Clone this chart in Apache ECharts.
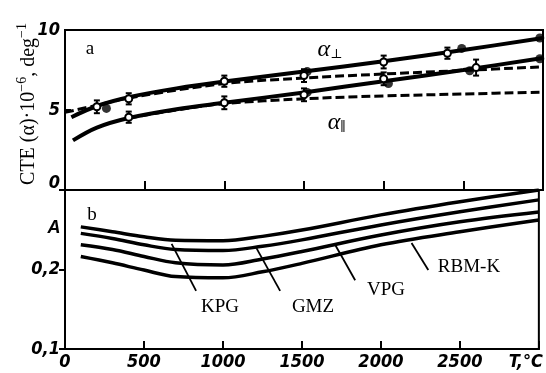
<!DOCTYPE html>
<html><head><meta charset="utf-8">
<script src="https://cdn.jsdelivr.net/npm/echarts@6/dist/echarts.min.js"></script>
<style>html,body{margin:0;padding:0;background:#fff}#c{width:546px;height:373px}</style>
</head><body><div id="c"></div>
<script>
// ---------- data ----------
const xTicks = [0, 500, 1000, 1500, 2000, 2500, 3000];
// panel a: CTE, 10^-6 deg^-1
const perpSolid = [[40,4.55],[200,5.25],[400,5.8],[700,6.35],[1000,6.78],[1500,7.4],[2000,8.05],[2500,8.75],[3000,9.5]];
const perpDashed = [[0,4.85],[200,5.3],[400,5.75],[1000,6.65],[1500,7.0],[2000,7.25],[2500,7.47],[3000,7.7]];
const parSolid = [[50,3.1],[200,3.9],[400,4.5],[700,5.05],[1000,5.45],[1500,6.1],[2000,6.8],[2500,7.5],[3000,8.25]];
const parDashed = [[400,4.5],[700,5.0],[1000,5.4],[1500,5.7],[2000,5.88],[2500,6.0],[3000,6.12]];
const perpOpen = [[200,5.2,0.4],[400,5.7,0.35],[1000,6.8,0.35],[1500,7.15,0.4],[2000,8.0,0.4],[2400,8.55,0.35]];
const perpFilled = [[260,5.1],[1520,7.4],[2490,8.85],[2980,9.5]];
const parOpen = [[400,4.55,0.35],[1000,5.45,0.4],[1500,5.95,0.4],[2000,6.95,0.4],[2580,7.65,0.5]];
const parFilled = [[1520,6.1],[2030,6.65],[2540,7.45],[2980,8.2]];
// panel b: A (log scale, ticks 0,1 / 0,2)
const aTicks = [0.1, 0.2, 0.4];
const kpg  = [[100,0.290],[300,0.278],[500,0.266],[700,0.258],[1000,0.257],[1250,0.267],[1500,0.282],[2000,0.322],[2500,0.361],[3000,0.400]];
const gmz  = [[100,0.274],[300,0.262],[500,0.248],[700,0.238],[1000,0.236],[1250,0.245],[1500,0.259],[2000,0.295],[2500,0.331],[3000,0.367]];
const vpg  = [[100,0.248],[300,0.238],[500,0.224],[700,0.212],[1000,0.208],[1250,0.219],[1500,0.234],[2000,0.270],[2500,0.303],[3000,0.330]];
const rbmk = [[100,0.224],[300,0.212],[500,0.199],[700,0.188],[1000,0.186],[1250,0.196],[1500,0.211],[2000,0.248],[2500,0.278],[3000,0.308]];
const leaderKPG  = [[675,0.250],[830,0.166]];
const leaderGMZ  = [[1212,0.241],[1362,0.166]];
const leaderVPG  = [[1712,0.247],[1837,0.182]];
const leaderRBMK = [[2194,0.252],[2300,0.199]];

// log transform for panel b (value axis in octaves above 0.1)
const A0 = aTicks[0];
const toLog = arr => arr.map(p => [p[0], Math.log2(p[1] / A0)]);

// ---------- chart ----------
const chart = echarts.init(document.getElementById('c'), null, {renderer:'canvas'});
const tickFont = {fontFamily:'"Liberation Sans Narrow","DejaVu Sans Condensed","Liberation Sans",sans-serif', fontStyle:'italic', fontWeight:'bold', fontSize:18, color:'#000'};
const serif = '"Liberation Serif","DejaVu Serif",serif';
const axLine = {show:true, lineStyle:{color:'#000', width:2}};

function lineS(data, xi, yi, width, dashed, z) {
  return {type:'line', xAxisIndex:xi, yAxisIndex:yi, data:data, smooth:0.35, symbol:'none', z:z||2,
    lineStyle:{color:'#000', width:width, type: dashed ? [9,4] : 'solid'}, silent:true, animation:false};
}
function errS(data) {
  return {type:'custom', xAxisIndex:0, yAxisIndex:0, data:data, z:5, animation:false,
    renderItem:function(params, api){
      const t = api.value(0), v = api.value(1), e = api.value(2);
      const p = api.coord([t, v]), pt = api.coord([t, v+e]), pb = api.coord([t, v-e]);
      const st = {stroke:'#000', lineWidth:2};
      return {type:'group', children:[
        {type:'line', shape:{x1:p[0],y1:pt[1],x2:p[0],y2:pb[1]}, style:st},
        {type:'line', shape:{x1:p[0]-3,y1:pt[1],x2:p[0]+3,y2:pt[1]}, style:st},
        {type:'line', shape:{x1:p[0]-3,y1:pb[1],x2:p[0]+3,y2:pb[1]}, style:st},
        {type:'circle', shape:{cx:p[0], cy:p[1], r:3.5}, style:{fill:'#fff', stroke:'#000', lineWidth:2}}
      ]};
    }};
}
function dotS(data) {
  return {type:'scatter', xAxisIndex:0, yAxisIndex:0, data:data, symbolSize:9, z:4, animation:false,
    itemStyle:{color:'#000'}};
}

chart.setOption({
  backgroundColor:'#fff',
  animation:false,
  grid:[
    {left:65, width:478, top:30, height:160, show:true, borderColor:'#000', borderWidth:2, backgroundColor:'transparent'},
    {left:65, width:478, top:190, height:159, show:true, borderColor:'#000', borderWidth:2, backgroundColor:'transparent'}
  ],
  xAxis:[
    {gridIndex:0, type:'value', min:xTicks[0], max:xTicks[xTicks.length-1], interval:500, axisLine:axLine,
      axisTick:{show:true, inside:true, length:9, lineStyle:{width:2,color:'#000'}}, axisLabel:{show:false}, splitLine:{show:false}},
    {gridIndex:1, type:'value', min:xTicks[0], max:xTicks[xTicks.length-1], interval:500, axisLine:axLine,
      axisTick:{show:true, inside:true, length:8, lineStyle:{width:2,color:'#000'}},
      axisLabel:Object.assign({margin:4, formatter:function(v){ return v===3000 ? '{u|T,°C}' : String(v); },
        rich:{u:Object.assign({padding:[0,26,0,0]}, tickFont)}}, tickFont), splitLine:{show:false}}
  ],
  yAxis:[
    {gridIndex:0, type:'value', min:0, max:10, interval:5, axisLine:axLine,
      axisTick:{show:true, inside:true, length:6, lineStyle:{width:2,color:'#000'}},
      axisLabel:Object.assign({margin:5, formatter:function(v){ return v===0 ? '{z|0}' : String(v); },
        rich:{z:Object.assign({padding:[0,0,14,0]}, tickFont)}}, tickFont), splitLine:{show:false}},
    {gridIndex:1, type:'value', min:0, max:2, interval:1, axisLine:axLine,
      axisTick:{show:true, inside:false, length:6, lineStyle:{width:2,color:'#000'}},
      axisLabel:Object.assign({margin:5, formatter:function(v){
        if (v===0) return '0,1';
        if (v===1) return '0,2';
        return ''; }}, tickFont), splitLine:{show:false}}
  ],
  series:[
    lineS(perpDashed,0,0,3,true,2),
    lineS(parDashed,0,0,3,true,2),
    lineS(perpSolid,0,0,4,false,3),
    lineS(parSolid,0,0,4,false,3),
    dotS(perpFilled), dotS(parFilled),
    errS(perpOpen), errS(parOpen),
    lineS(toLog(kpg),1,1,3.5,false),
    lineS(toLog(gmz),1,1,3.5,false),
    lineS(toLog(vpg),1,1,3.5,false),
    lineS(toLog(rbmk),1,1,3.5,false),
    Object.assign(lineS(toLog(leaderKPG),1,1,1.8,false), {smooth:false}),
    Object.assign(lineS(toLog(leaderGMZ),1,1,1.8,false), {smooth:false}),
    Object.assign(lineS(toLog(leaderVPG),1,1,1.8,false), {smooth:false}),
    Object.assign(lineS(toLog(leaderRBMK),1,1,1.8,false), {smooth:false})
  ],
  graphic:[
    {type:'text', x:27, y:104, rotation:Math.PI/2, style:{
      text:'{n|CTE (α)·10}{s|−6}{n|, deg}{s|−1}', align:'center', verticalAlign:'middle',
      rich:{n:{fontFamily:serif, fontSize:20, fill:'#000', verticalAlign:'bottom'},
            s:{fontFamily:serif, fontSize:14, fill:'#000', verticalAlign:'top', padding:[0,0,9,0]}}}},
    {type:'text', x:90, y:49, style:{text:'a', font:'19px '+serif, fill:'#000', align:'center', verticalAlign:'middle'}},
    {type:'text', x:92, y:215, style:{text:'b', font:'19px '+serif, fill:'#000', align:'center', verticalAlign:'middle'}},
    {type:'text', x:54, y:228, style:{text:'A', font:'italic bold 18px "Liberation Sans Narrow","Liberation Sans",sans-serif', fill:'#000', align:'center', verticalAlign:'middle'}},
    {type:'text', x:330, y:50, style:{text:'{a|α}{b|⊥}', align:'center', verticalAlign:'middle',
      rich:{a:{font:'italic 24px '+serif, fill:'#000'}, b:{font:'13px '+serif, fill:'#000', padding:[10,0,0,0]}}}},
    {type:'text', x:337, y:123, style:{text:'{a|α}{b|∥}', align:'center', verticalAlign:'middle',
      rich:{a:{font:'italic 24px '+serif, fill:'#000'}, b:{font:'italic 13px '+serif, fill:'#000', padding:[10,0,0,0]}}}},
    {type:'text', x:220, y:307, style:{text:'KPG', font:'19px '+serif, fill:'#000', align:'center', verticalAlign:'middle'}},
    {type:'text', x:313, y:307, style:{text:'GMZ', font:'19px '+serif, fill:'#000', align:'center', verticalAlign:'middle'}},
    {type:'text', x:386, y:290, style:{text:'VPG', font:'19px '+serif, fill:'#000', align:'center', verticalAlign:'middle'}},
    {type:'text', x:469, y:267, style:{text:'RBM-K', font:'19px '+serif, fill:'#000', align:'center', verticalAlign:'middle'}}
  ]
});
</script></body></html>
